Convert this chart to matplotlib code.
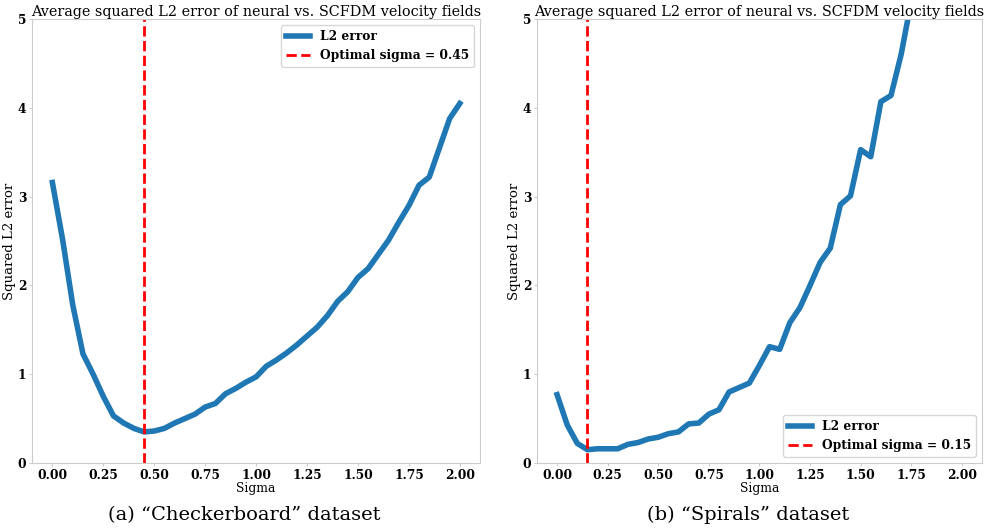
import matplotlib
matplotlib.use("Agg")
import matplotlib.pyplot as plt
import numpy as np

sigma_a = [0.00, 0.05, 0.10, 0.15, 0.20, 0.25, 0.30, 0.35, 0.40, 0.45,
           0.50, 0.55, 0.60, 0.65, 0.70, 0.75, 0.80, 0.85, 0.90, 0.95,
           1.00, 1.05, 1.10, 1.15, 1.20, 1.25, 1.30, 1.35, 1.40, 1.45,
           1.50, 1.55, 1.60, 1.65, 1.70, 1.75, 1.80, 1.85, 1.90, 1.95, 2.00]
err_a = [3.16, 2.52, 1.78, 1.23, 1.00, 0.75, 0.53, 0.45, 0.39, 0.35,
         0.36, 0.39, 0.45, 0.50, 0.55, 0.63, 0.67, 0.78, 0.84, 0.91,
         0.97, 1.09, 1.16, 1.24, 1.33, 1.43, 1.53, 1.66, 1.82, 1.93,
         2.09, 2.19, 2.35, 2.51, 2.71, 2.90, 3.13, 3.22, 3.55, 3.88, 4.05]
opt_a = 0.45

sigma_b = [0.00, 0.05, 0.10, 0.15, 0.20, 0.25, 0.30, 0.35, 0.40, 0.45,
           0.50, 0.55, 0.60, 0.65, 0.70, 0.75, 0.80, 0.85, 0.90, 0.95,
           1.00, 1.05, 1.10, 1.15, 1.20, 1.25, 1.30, 1.35, 1.40, 1.45,
           1.50, 1.55, 1.60, 1.65, 1.70, 1.75, 1.80]
err_b = [0.77, 0.43, 0.22, 0.15, 0.16, 0.16, 0.16, 0.21, 0.23, 0.27,
         0.29, 0.33, 0.35, 0.44, 0.45, 0.55, 0.60, 0.80, 0.85, 0.90,
         1.10, 1.31, 1.28, 1.58, 1.75, 2.00, 2.26, 2.42, 2.91, 3.01,
         3.53, 3.45, 4.07, 4.14, 4.60, 5.20, 5.60]
opt_b = 0.15

title = "Average squared L2 error of neural vs. SCFDM velocity fields"
captions = ["(a) \u201cCheckerboard\u201d dataset", "(b) \u201cSpirals\u201d dataset"]
caption_x = [0.248, 0.760]
xticks = [0.00, 0.25, 0.50, 0.75, 1.00, 1.25, 1.50, 1.75, 2.00]
yticks = [0, 1, 2, 3, 4, 5]

plt.rcParams['font.family'] = ['DejaVu Serif']

fig = plt.figure(figsize=(9.85, 5.29), dpi=100)
ax1 = fig.add_axes([0.0325, 0.1248, 0.455, 0.839])
ax2 = fig.add_axes([0.545, 0.1248, 0.452, 0.839])

panels = [(ax1, sigma_a, err_a, opt_a, 'upper right'),
          (ax2, sigma_b, err_b, opt_b, 'lower right')]

for i, (ax, xs, ys, opt, loc) in enumerate(panels):
    ax.plot(xs, ys, color='#1f77b4', lw=4, label='L2 error')
    ax.axvline(opt, color='red', ls='--', lw=2, label=f'Optimal sigma = {opt:.2f}')
    ax.set_ylim(0, 5)
    ax.set_xlim(-0.1, 2.1)
    ax.set_xticks(xticks)
    ax.set_xticklabels([f'{t:.2f}' for t in xticks])
    ax.set_yticks(yticks)
    ax.set_yticklabels([str(t) for t in yticks])
    for lab in ax.get_xticklabels() + ax.get_yticklabels():
        lab.set_fontweight('bold')
        lab.set_fontsize(8.8)
    ax.tick_params(length=2, color='#cccccc', pad=2)
    for s in ax.spines.values():
        s.set_color('#cccccc')
    ax.set_title(title, fontsize=10.4, pad=1)
    ax.set_xlabel('Sigma', fontsize=8.8, labelpad=0)
    ax.set_ylabel('Squared L2 error', fontsize=9.5, labelpad=1)
    leg = ax.legend(loc=loc, prop={'weight': 'bold', 'size': 8.8})
    fig.text(caption_x[i], 0.027, captions[i], ha='center', va='center', fontsize=14)

fig.savefig('out.png', dpi=100)
